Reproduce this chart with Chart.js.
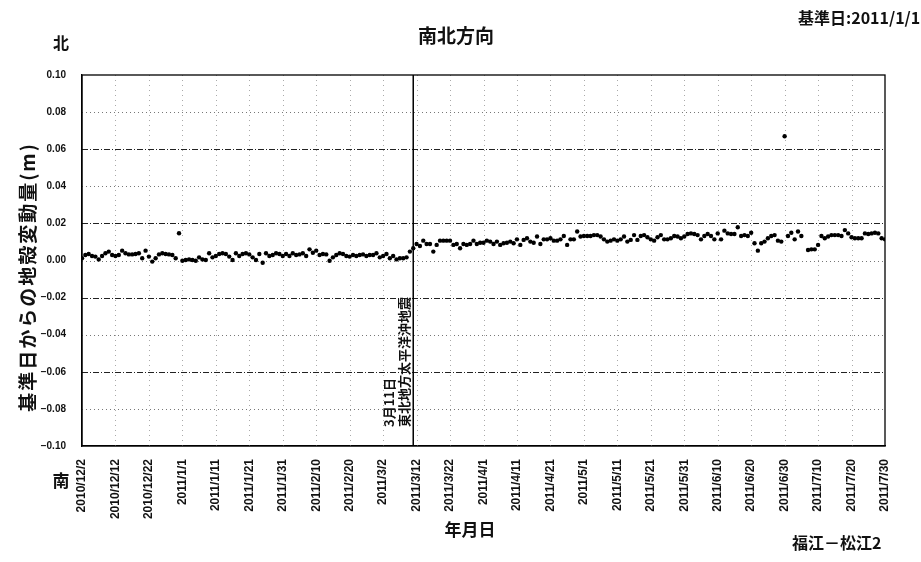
<!DOCTYPE html>
<html>
<head>
<meta charset="utf-8">
<script src="https://cdn.jsdelivr.net/npm/chart.js@4.4.0/dist/chart.umd.min.js"></script>
<style>
html, body { margin: 0; padding: 0; background: #fff; }
#wrap { width: 921px; height: 562px; }
</style>
</head>
<body>
<div id="wrap"><canvas id="mycanvas" width="921" height="562"></canvas></div>
<script>
// tick labels, every 10 days from 2010/12/2
var xTickLabels = ['2010/12/2', '2010/12/12', '2010/12/22', '2011/1/1', '2011/1/11', '2011/1/21',
  '2011/1/31', '2011/2/10', '2011/2/20', '2011/3/2', '2011/3/12', '2011/3/22', '2011/4/1',
  '2011/4/11', '2011/4/21', '2011/5/1', '2011/5/11', '2011/5/21', '2011/5/31', '2011/6/10',
  '2011/6/20', '2011/6/30', '2011/7/10', '2011/7/20', '2011/7/30'];

// daily north-south displacement (m), one array per month
var dec2010 = [0.0012, 0.0030, 0.0035, 0.0024, 0.0021, 0.0006, 0.0024, 0.0039, 0.0048, 0.0030,
  0.0024, 0.0030, 0.0053, 0.0039, 0.0033, 0.0033, 0.0035, 0.0039, 0.0012, 0.0053,
  0.0021, -0.0006, 0.0012, 0.0033, 0.0039, 0.0035, 0.0033, 0.0030, 0.0012, 0.0147];
var jan2011 = [-0.0001, 0.0003, 0.0006, 0.0003, -0.0001, 0.0017, 0.0006, 0.0003, 0.0039, 0.0017,
  0.0024, 0.0035, 0.0039, 0.0035, 0.0021, 0.0003, 0.0039, 0.0024, 0.0035, 0.0039,
  0.0033, 0.0017, 0.0003, 0.0035, -0.0012, 0.0039, 0.0024, 0.0030, 0.0039, 0.0035, 0.0024];
var feb2011 = [0.0035, 0.0024, 0.0039, 0.0030, 0.0033, 0.0039, 0.0024, 0.0060, 0.0042, 0.0053,
  0.0030, 0.0035, 0.0033, -0.0001, 0.0017, 0.0030, 0.0039, 0.0035, 0.0024, 0.0021,
  0.0030, 0.0024, 0.0030, 0.0033, 0.0024, 0.0030, 0.0030, 0.0039];
var mar2011 = [0.0017, 0.0024, 0.0035, 0.0012, 0.0024, 0.0006, 0.0012, 0.0012, 0.0017, 0.0048,
  0.0066, 0.0089, 0.0078, 0.0107, 0.0089, 0.0089, 0.0048, 0.0084, 0.0107, 0.0107,
  0.0107, 0.0107, 0.0084, 0.0089, 0.0066, 0.0089, 0.0084, 0.0089, 0.0107, 0.0089, 0.0096];
var apr2011 = [0.0096, 0.0107, 0.0102, 0.0089, 0.0102, 0.0084, 0.0093, 0.0096, 0.0102, 0.0093,
  0.0114, 0.0084, 0.0111, 0.0120, 0.0102, 0.0096, 0.0129, 0.0089, 0.0114, 0.0114,
  0.0120, 0.0107, 0.0107, 0.0114, 0.0132, 0.0084, 0.0114, 0.0114, 0.0156, 0.0129];
var may2011 = [0.0132, 0.0132, 0.0132, 0.0137, 0.0137, 0.0129, 0.0114, 0.0102, 0.0107, 0.0114,
  0.0107, 0.0114, 0.0129, 0.0102, 0.0111, 0.0137, 0.0111, 0.0132, 0.0137, 0.0125,
  0.0114, 0.0107, 0.0125, 0.0137, 0.0114, 0.0114, 0.0120, 0.0132, 0.0129, 0.0120, 0.0129];
var jun2011 = [0.0143, 0.0146, 0.0143, 0.0137, 0.0114, 0.0132, 0.0143, 0.0132, 0.0114, 0.0146,
  0.0114, 0.0161, 0.0146, 0.0143, 0.0143, 0.0179, 0.0132, 0.0137, 0.0132, 0.0150,
  0.0093, 0.0053, 0.0093, 0.0102, 0.0120, 0.0132, 0.0137, 0.0107, 0.0102, 0.0670];
var jul2011 = [0.0132, 0.0150, 0.0114, 0.0156, 0.0132, null, 0.0057, 0.0060, 0.0060, 0.0084,
  0.0132, 0.0120, 0.0129, 0.0137, 0.0137, 0.0137, 0.0132, 0.0164, 0.0146, 0.0125,
  0.0120, 0.0120, 0.0120, 0.0146, 0.0143, 0.0146, 0.0150, 0.0146, 0.0120, 0.0114];

var quakeDay = 99; // 2011/3/11, days after 2010/12/2
var quakeText = ['3月11日', '東北地方太平洋沖地震'];

var cjk = "'Noto Sans CJK JP', 'Noto Sans', sans-serif";
var latin = "'Liberation Sans', Arial, sans-serif";

var values = [].concat(dec2010, jan2011, feb2011, mar2011, apr2011, may2011, jun2011, jul2011);
var points = [];
for (var i = 0; i < values.length; i++) {
  if (values[i] !== null) points.push({x: i, y: values[i]});
}

function text(ctx, str, x, y, font, align, rot, spacing) {
  ctx.save();
  ctx.translate(x, y);
  if (rot) ctx.rotate(rot);
  ctx.font = font;
  if (spacing) ctx.letterSpacing = spacing;
  ctx.fillStyle = '#111';
  ctx.textAlign = align || 'center';
  ctx.textBaseline = 'middle';
  ctx.fillText(str, 0, 0);
  ctx.restore();
}

var decor = {
  id: 'decor',
  beforeDatasetsDraw: function(chart) {
    var ctx = chart.ctx, a = chart.chartArea;
    var xs = chart.scales.x, ys = chart.scales.y;
    ctx.save();
    ctx.lineWidth = 1;
    ys.ticks.forEach(function(t) {
      var k = Math.round(Math.abs(t.value) * 100);
      if (k === 10) return;
      var y = Math.round(ys.getPixelForValue(t.value)) + 0.5;
      if (k === 2 || k === 6) {
        ctx.strokeStyle = '#222';
        ctx.setLineDash([6, 2, 1, 2]);
      } else {
        ctx.strokeStyle = '#777';
        ctx.setLineDash([1, 3]);
      }
      ctx.beginPath();
      ctx.moveTo(a.left, y);
      ctx.lineTo(a.right, y);
      ctx.stroke();
    });
    ctx.strokeStyle = '#aaa';
    ctx.setLineDash([1, 4]);
    xs.ticks.forEach(function(t, idx) {
      if (idx === 0 || idx === xs.ticks.length - 1) return;
      var x = Math.round(xs.getPixelForValue(t.value)) + 0.5;
      ctx.beginPath();
      ctx.moveTo(x, a.top);
      ctx.lineTo(x, a.bottom);
      ctx.stroke();
    });
    ctx.restore();
  },
  afterDatasetsDraw: function(chart) {
    var ctx = chart.ctx, a = chart.chartArea;
    var xs = chart.scales.x;
    ctx.save();
    ctx.strokeStyle = '#000';
    ctx.lineWidth = 1.3;
    ctx.strokeRect(a.left, a.top, a.right - a.left, a.bottom - a.top);

    // earthquake marker
    var qx = xs.getPixelForValue(quakeDay);
    ctx.lineWidth = 1.5;
    ctx.beginPath();
    ctx.moveTo(qx, a.top);
    ctx.lineTo(qx, a.bottom);
    ctx.stroke();
    ctx.restore();

    var f = 'bold 13px ' + cjk;
    text(ctx, quakeText[0], qx - 24, a.bottom - 19, f, 'left', -Math.PI / 2);
    text(ctx, quakeText[1], qx - 9, a.bottom - 19, f, 'left', -Math.PI / 2);

    text(ctx, '南北方向', 456, 36, 'bold 19px ' + cjk);
    text(ctx, '北', 61, 43, 'bold 16px ' + cjk);
    text(ctx, '南', 61, 481, 'bold 17px ' + cjk);
    text(ctx, '基準日:2011/1/1', 798, 18, 'bold 16px ' + cjk, 'left');
    text(ctx, '基準日からの地殻変動量(m)', 28, 277, 'bold 19px ' + cjk, 'center', -Math.PI / 2, '2px');
    text(ctx, '年月日', 470, 530, 'bold 17px ' + cjk);
    text(ctx, '福江－松江2', 792, 543, 'bold 16px ' + cjk, 'left');
  }
};

var ctx = document.getElementById('mycanvas');
var chart = new Chart(ctx, {
  type: 'scatter',
  data: {
    datasets: [{
      label: '福江－松江2',
      data: points,
      showLine: false,
      pointRadius: 2.2,
      pointBackgroundColor: '#000',
      pointBorderWidth: 0
    }]
  },
  options: {
    responsive: false,
    animation: false,
    layout: { padding: { top: 75, right: 36, bottom: 0, left: 0 } },
    plugins: { legend: { display: false }, tooltip: { enabled: false }, title: { display: false } },
    scales: {
      x: {
        type: 'linear',
        min: 0,
        max: 240,
        grid: { display: false },
        border: { color: '#000', width: 1.3 },
        afterFit: function(s) { s.height = 116; },
        ticks: {
          stepSize: 10,
          autoSkip: false,
          minRotation: 90,
          maxRotation: 90,
          padding: 5,
          color: '#111',
          font: { family: latin, size: 12, weight: 'bold' },
          callback: function(v) { return xTickLabels[Math.round(v / 10)]; }
        }
      },
      y: {
        min: -0.1,
        max: 0.1,
        grid: { display: false },
        border: { color: '#000', width: 1.3 },
        afterFit: function(s) { s.width = 82; },
        ticks: {
          stepSize: 0.02,
          padding: 8,
          color: '#111',
          font: { family: latin, size: 10, weight: 'bold' },
          callback: function(v) {
            if (Math.abs(v) < 1e-9) return '0.00';
            return v.toFixed(2).replace('-', '−');
          }
        }
      }
    }
  },
  plugins: [decor]
});
</script>
</body>
</html>
